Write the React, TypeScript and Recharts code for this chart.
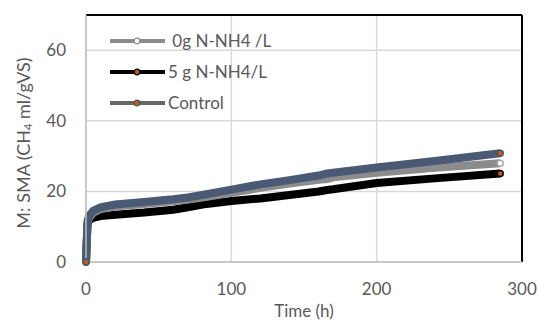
import React from "react";
import {
  CartesianGrid,
  Legend,
  Line,
  LineChart,
  ReferenceLine,
  XAxis,
  YAxis,
} from "recharts";

const hours = [0, 1, 2, 5, 10, 20, 40, 60, 70, 80, 100, 120, 140, 160, 166, 170, 200, 240, 285];
const zeroG = [0, 11, 12.5, 14, 15, 15.7, 16.4, 17.2, 17.7, 18.3, 19.6, 21, 22.2, 23.3, 23.5, 24, 25.3, 26.7, 28];
const fiveG = [0, 10.5, 11.8, 12.5, 13, 13.4, 14, 14.8, 15.5, 16.3, 17.3, 18, 19, 20, 20.4, 20.6, 22.4, 23.7, 25.1];
const control = [0, 11.4, 13, 14.5, 15.5, 16.3, 17, 17.8, 18.3, 19, 20.5, 22, 23.2, 24.5, 25.1, 25.3, 26.8, 28.6, 30.8];

const xTicks = [0, 100, 200, 300];
const yTicks = [0, 20, 40, 60];

const data = hours.map((t, i) => ({
  t,
  zeroG: zeroG[i],
  fiveG: fiveG[i],
  control: control[i],
}));

const FONT = "Lato, 'Open Sans', sans-serif";
const TEXT = "#595959";
const last = hours.length - 1;

const legendItems = [
  { name: " 0g N-NH4 /L", line: "#8c8c8c", fill: "#fff", ring: "#8c8c8c" },
  { name: "5 g N-NH4/L", line: "#000", fill: "#c55a11", ring: "#000" },
  { name: "Control", line: "#666", fill: "#c55a11", ring: "#44546a" },
];

function LegendBox() {
  return (
    <div style={{ fontFamily: FONT, fontSize: 17, color: TEXT }}>
      {legendItems.map((it) => (
        <div key={it.name} style={{ display: "flex", alignItems: "center", height: 31 }}>
          <svg width={55} height={10}>
            <line x1={0} y1={5} x2={55} y2={5} stroke={it.line} strokeWidth={4} />
            <circle cx={27} cy={5} r={2.8} fill={it.fill} stroke={it.ring} strokeWidth={1.2} />
          </svg>
          <span style={{ whiteSpace: "pre", marginLeft: 3 }}>{it.name}</span>
        </div>
      ))}
    </div>
  );
}

function endDot(fill: string, ring: string) {
  return (props: any) => {
    const { cx, cy, index } = props;
    if (index !== last && index !== 0) return <g key={index} />;
    return <circle key={index} cx={cx} cy={cy} r={3} fill={fill} stroke={ring} strokeWidth={1.5} />;
  };
}

function YTitle() {
  return (
    <text
      x={23}
      y={143}
      transform="rotate(-90 23 143)"
      textAnchor="middle"
      dominantBaseline="central"
      fill={TEXT}
      fontSize={18}
      fontFamily={FONT}
    >
      M: SMA (CH<tspan fontSize={11} dy={4}>4</tspan>
      <tspan dy={-4}>{"  ml/gVS)"}</tspan>
    </text>
  );
}

export default function App() {
  return (
    <div style={{ position: "absolute", left: 0, top: 0 }}>
      <LineChart
        width={539}
        height={320}
        data={data}
        margin={{ top: 15, right: 17, bottom: 0, left: 8 }}
      >
        <CartesianGrid stroke="#d9d9d9" strokeWidth={1.5} />
        <XAxis
          dataKey="t"
          type="number"
          domain={[0, 300]}
          ticks={xTicks}
          height={58}
          tickLine={false}
          tickMargin={15}
          axisLine={{ stroke: "#bfbfbf", strokeWidth: 1.5 }}
          tick={{ fill: TEXT, fontSize: 17, fontFamily: FONT }}
          label={{ value: "Time (h)", position: "insideBottom", offset: 3, fill: TEXT, fontSize: 17, fontFamily: FONT }}
        />
        <YAxis
          type="number"
          domain={[0, 70]}
          ticks={yTicks}
          width={78}
          tickLine={false}
          tickMargin={14}
          axisLine={{ stroke: "#bfbfbf", strokeWidth: 1.5 }}
          tick={{ fill: TEXT, fontSize: 17, fontFamily: FONT }}
          label={<YTitle />}
        />
        <ReferenceLine y={70} stroke="#000" strokeWidth={2} />
        <ReferenceLine x={300} stroke="#000" strokeWidth={2} />
        <Line
          dataKey="fiveG"
          stroke="#000"
          strokeWidth={8}
          dot={endDot("#c55a11", "#000")}
          isAnimationActive={false}
        />
        <Line
          dataKey="zeroG"
          stroke="#8c8c8c"
          strokeWidth={8}
          dot={endDot("#fff", "#a6a6a6")}
          isAnimationActive={false}
        />
        <Line
          dataKey="control"
          stroke="#4a5a74"
          strokeWidth={8}
          dot={endDot("#c55a11", "#44546a")}
          isAnimationActive={false}
        />
        <Legend
          layout="horizontal"
          verticalAlign="middle"
          align="center"
          content={() => <LegendBox />}
          wrapperStyle={{ left: 110, top: 25, width: 220, height: 95 }}
        />
      </LineChart>
    </div>
  );
}
